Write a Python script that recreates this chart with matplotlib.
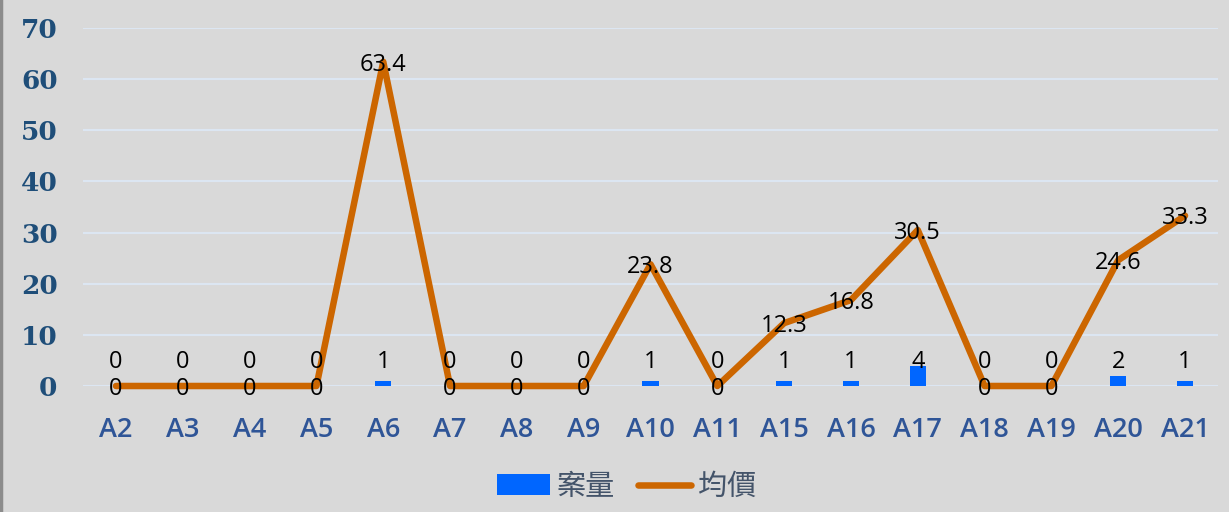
import matplotlib
matplotlib.use("Agg")
import matplotlib.pyplot as plt
from matplotlib.lines import Line2D
import numpy as np

categories = ["A2", "A3", "A4", "A5", "A6", "A7", "A8", "A9", "A10",
              "A11", "A15", "A16", "A17", "A18", "A19", "A20", "A21"]
cases = [0, 0, 0, 0, 1, 0, 0, 0, 1, 0, 1, 1, 4, 0, 0, 2, 1]          # 案量
avg_price = [0, 0, 0, 0, 63.4, 0, 0, 0, 23.8, 0, 12.3, 16.8, 30.5,
             0, 0, 24.6, 33.3]                                        # 均價
y_ticks = [0, 10, 20, 30, 40, 50, 60, 70]

C_BG = "#d9d9d9"
C_BAR = "#0066ff"
C_LINE = "#cc6600"
C_GRID = "#dce6f2"
C_YTICK = "#1f4e79"
C_XTICK = "#2f5597"
C_LEGEND = "#44546a"

plt.rcParams["font.family"] = ["Open Sans", "DejaVu Sans"]

fig = plt.figure(figsize=(12.29, 5.12), dpi=100, facecolor=C_BG)
ax = fig.add_axes([0.0672, 0.2461, 0.9242, 0.6992])
ax.set_facecolor(C_BG)

x = np.arange(len(categories))

bars = ax.bar(x, cases, width=0.24, color=C_BAR, zorder=3, label="案量")
line, = ax.plot(x, avg_price, color=C_LINE, lw=4.7, zorder=4, clip_on=False,
                solid_capstyle="round", label="均價")

# data labels
for xi, v in zip(x, cases):
    ax.annotate(f"{v}", (xi, 0), xytext=(0, 17.5), textcoords="offset points",
                ha="center", va="center", fontsize=17, color="black", zorder=6)
for xi, v in zip(x, avg_price):
    txt = f"{v:g}" if v != 0 else "0"
    ax.annotate(txt, (xi, v), xytext=(0, -2), textcoords="offset points",
                ha="center", va="center", fontsize=17, color="black", zorder=6)

ax.set_xlim(-0.5, len(categories) - 0.5)
ax.set_ylim(0, 70)
ax.set_yticks(y_ticks)
ax.set_xticks(x)
ax.set_xticklabels(categories, fontsize=19.5, fontweight="semibold", color=C_XTICK)
ax.set_yticklabels([str(t) for t in y_ticks], fontsize=19, fontweight="heavy",
                   color=C_YTICK, family="DejaVu Serif")
ax.tick_params(axis="x", length=0, pad=21.5)
ax.tick_params(axis="y", length=0, pad=18)
ax.grid(axis="y", color=C_GRID, lw=1.5, zorder=0)
ax.set_axisbelow(True)
for s in ax.spines.values():
    s.set_visible(False)

leg = ax.legend([bars, line], ["案量", "均價"], loc="center",
                bbox_to_anchor=(0.51, 0.049), bbox_transform=fig.transFigure,
                ncol=2, frameon=False, handlelength=1.8,
                handletextpad=0.25, columnspacing=0.8,
                prop={"family": ["Noto Sans CJK TC", "DejaVu Sans"], "size": 21})
for t in leg.get_texts():
    t.set_color(C_LEGEND)

# left border of the chart frame
fig.add_artist(Line2D([0.001, 0.001], [0, 1], transform=fig.transFigure,
                      color="#8c8c8c", lw=2.5))

fig.savefig("out.png", dpi=100, facecolor=C_BG)
